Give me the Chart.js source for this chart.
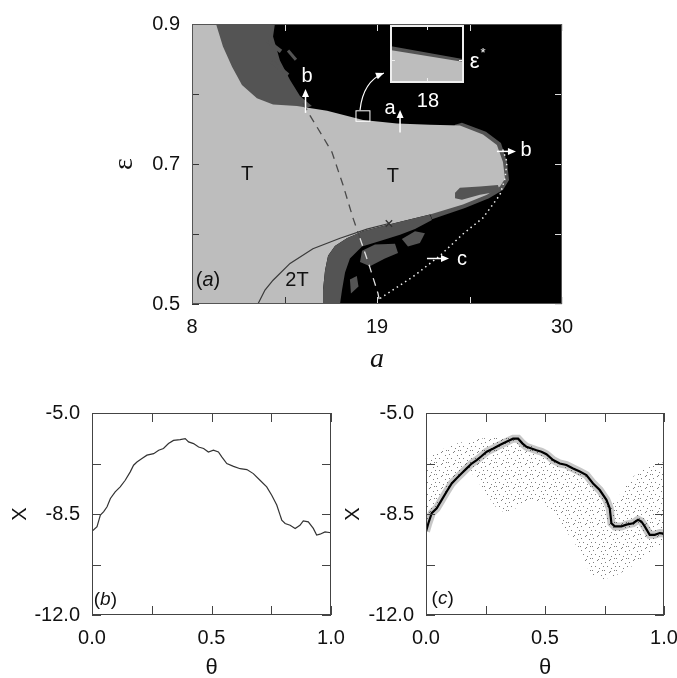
<!DOCTYPE html>
<html>
<head>
<meta charset="utf-8">
<script src="https://cdn.jsdelivr.net/npm/chart.js@4.4.1/dist/chart.umd.min.js"></script>
<style>
  html, body { margin: 0; padding: 0; background: #fff; width: 677px; height: 678px; overflow: hidden; }
  canvas { position: absolute; }
  #chartA { left: 0; top: 0; }
  #chartI { left: 390px; top: 25px; }
  #chartB { left: 0; top: 380px; }
  #chartC { left: 340px; top: 380px; }
</style>
</head>
<body>
<canvas id="chartA" width="677" height="380"></canvas>
<canvas id="chartI" width="74" height="58"></canvas>
<canvas id="chartB" width="360" height="310"></canvas>
<canvas id="chartC" width="357" height="310"></canvas>
<script>
// ---- panel (a): parameter plane, points are [a, epsilon] ----
const aTicks = [8, 13.5, 19, 24.5, 30];
const aLabels = [8, 19, 30];
const epsTicks = [0.5, 0.6, 0.7, 0.8, 0.9];
const epsLabels = [0.5, 0.7, 0.9];

const lightRegion = [[8,0.9],[9.43,0.9],[9.84,0.868],[10.38,0.839],[10.97,0.813],[11.86,0.794],[12.82,0.785],
  [14.24,0.783],[16.03,0.776],[18.17,0.763],[20.19,0.758],[22.15,0.756],[23.93,0.755],[25.30,0.742],[26.13,0.727],
  [26.49,0.703],[26.61,0.679],[26.31,0.668],[25.54,0.656],[24.11,0.642],[22.15,0.628],[19.77,0.614],[18.17,0.604],
  [17.21,0.594],[16.50,0.583],[16.09,0.569],[15.91,0.548],[15.79,0.520],[15.79,0.5],[8,0.5]];
const darkTopLeft = [[9.07,0.9],[12.93,0.9],[12.82,0.882],[13.23,0.848],[13.83,0.820],[14.42,0.797],[15.13,0.783],
  [13.83,0.773],[10.85,0.787],[9.07,0.872]];
const darkNose = [[23.64,0.756],[24.05,0.759],[25.48,0.746],[26.37,0.730],[26.73,0.703],[26.85,0.677],[26.49,0.663],
  [25.66,0.651],[24.23,0.637],[22.27,0.621],[21.56,0.675],[22.74,0.717]];
const darkLower = [[15.79,0.5],[15.79,0.520],[15.91,0.548],[16.09,0.569],[16.50,0.583],[17.21,0.594],[18.17,0.604],
  [19.77,0.614],[22.15,0.628],[22.27,0.620],[21.26,0.607],[20.37,0.599],[19.18,0.590],[18.11,0.582],[17.39,0.565],
  [17.10,0.545],[16.92,0.520],[16.80,0.5]];
const darkBlob1 = [[18.11,0.576],[18.88,0.585],[20.07,0.586],[20.25,0.573],[19.47,0.565],[18.58,0.554],[17.99,0.560]];
const darkBlob2 = [[20.48,0.593],[21.26,0.604],[21.85,0.601],[21.55,0.587],[20.84,0.582]];
const darkBlob3 = [[17.39,0.535],[17.80,0.540],[17.90,0.525],[17.45,0.515]];
const darkFinger = [[23.64,0.659],[23.93,0.666],[25.12,0.668],[26.19,0.670],[26.31,0.661],[25.12,0.656],[24.05,0.649],[23.64,0.651]];
const streak1 = [[12.52,0.875],[13.29,0.861]];
const streak2 = [[12.76,0.846],[13.71,0.827]];
const streak3 = [[13.71,0.862],[14.18,0.849]];

const solidCurve = [[11.92,0.5],[12.34,0.520],[12.82,0.534],[13.83,0.558],[15.19,0.579],[16.80,0.594],[18.40,0.607],[19.71,0.615]];
const dashedCurve = [[14.60,0.787],[15.02,0.769],[15.73,0.741],[16.32,0.717],[16.98,0.670],[17.57,0.623],[17.99,0.594],
  [18.58,0.552],[19.06,0.515],[19.18,0.5]];
const dottedCurve = [[19.18,0.508],[21.14,0.539],[22.74,0.569],[24.11,0.600],[25.30,0.623],[26.31,0.656],[26.61,0.679],
  [26.73,0.703],[26.43,0.724]];
const crossMarks = [[19.71,0.615]];

// inset: zoom of the boundary near a = 18
const insetA = [17.9, 18.1];
const insetEps = [0.760, 0.770];
const epsStar = 0.764;
const insetDark = [[17.9,0.760],[17.9,0.7664],[18.1,0.7641],[18.1,0.760]];
const insetLight = [[17.9,0.760],[17.9,0.7657],[18.1,0.7636],[18.1,0.760]];

// ---- panels (b) and (c): x against theta ----
const thetaTicks = [0, 0.25, 0.5, 0.75, 1];
const thetaLabels = [0, 0.5, 1];
const xTicks = [-12, -10.25, -8.5, -6.75, -5];
const xLabels = [-12, -8.5, -5];

const thetaB = [0,0.021,0.035,0.049,0.063,0.077,0.097,0.118,0.139,0.160,0.174,0.188,0.209,0.230,0.258,0.279,0.299,
  0.320,0.341,0.369,0.390,0.404,0.425,0.446,0.467,0.487,0.508,0.529,0.543,0.564,0.592,0.620,0.648,0.675,0.703,0.731,
  0.752,0.773,0.787,0.794,0.808,0.829,0.850,0.870,0.884,0.905,0.926,0.940,0.954,0.975,1.0];
const xB = [-9.10,-8.94,-8.54,-8.42,-8.25,-7.96,-7.73,-7.56,-7.33,-7.04,-6.81,-6.70,-6.58,-6.46,-6.41,-6.29,-6.23,
  -6.06,-5.95,-5.92,-5.89,-6.00,-6.06,-6.18,-6.23,-6.35,-6.29,-6.35,-6.52,-6.75,-6.85,-6.93,-6.96,-7.10,-7.33,-7.56,
  -7.85,-8.19,-8.54,-8.71,-8.83,-8.89,-9.00,-8.89,-8.74,-8.77,-9.00,-9.23,-9.20,-9.12,-9.15];

const thetaC = [0,0.010,0.024,0.045,0.066,0.087,0.108,0.129,0.150,0.171,0.192,0.213,0.234,0.255,0.283,0.310,0.338,
  0.366,0.387,0.406,0.422,0.443,0.464,0.485,0.506,0.534,0.562,0.590,0.618,0.646,0.674,0.702,0.730,0.758,0.772,0.779,
  0.793,0.821,0.842,0.870,0.891,0.905,0.919,0.940,0.961,0.982,1.0];
const xC = [-9.10,-8.82,-8.47,-8.30,-8.01,-7.72,-7.44,-7.26,-7.09,-6.92,-6.75,-6.63,-6.49,-6.34,-6.23,-6.11,-6.00,
  -5.89,-5.89,-6.06,-6.17,-6.23,-6.29,-6.34,-6.43,-6.63,-6.75,-6.80,-6.92,-7.03,-7.15,-7.44,-7.67,-8.01,-8.30,-8.82,
  -8.93,-8.93,-8.87,-8.82,-8.70,-8.76,-8.93,-9.22,-9.22,-9.16,-9.18];

// outline of the sparse cloud of points in (c)
const cloudTheta = [0,0.059,0.129,0.199,0.269,0.338,0.380,0.422,0.478,0.548,0.618,0.674,0.730,0.772,0.800,0.828,0.870,
  0.926,0.975,1.0,1.0,0.954,0.898,0.842,0.786,0.737,0.695,0.667,0.639,0.604,0.569,0.534,0.492,0.450,0.408,0.366,0.331,
  0.297,0.262,0.227,0.199,0.171,0.150,0.129,0.108,0.087,0.066,0.045,0.024,0];
const cloudX = [-6.63,-6.29,-6.06,-5.92,-5.85,-5.83,-5.85,-6.06,-6.29,-6.63,-6.92,-7.21,-7.78,-8.24,-8.01,-7.67,-7.21,
  -6.89,-6.69,-6.72,-9.51,-9.74,-10.14,-10.43,-10.68,-10.77,-10.60,-10.20,-9.68,-9.28,-8.82,-8.41,-8.13,-8.07,-8.13,
  -8.36,-8.45,-8.30,-7.90,-7.49,-7.15,-6.92,-7.09,-7.26,-7.44,-7.72,-8.01,-8.30,-8.47,-9.10];

const LIGHT = '#bdbdbd';
const DARK = '#545454';
const SANS = 'Liberation Sans';

const xy = pts => pts.map(p => ({ x: p[0], y: p[1] }));
const zipXY = (xs, ys) => xs.map((v, i) => ({ x: v, y: ys[i] }));

function polygon(pts, color, order) {
  return { data: xy(pts), borderWidth: 0, borderColor: color, backgroundColor: color, fill: 'shape', order: order };
}

// extra drawing per chart: frame, inward ticks, arrows and text
const deco = {
  chartA: {
    areaColor: '#000', frameColor: '#555', frameWidth: 1, tickLen: 7, xTicks: aTicks, yTicks: epsTicks,
    tickColor: (side, v) => {
      if (side === 'left') return '#333';
      if (side === 'bottom' && v < 15) return '#333';
      return '#ddd';
    },
    labels: [
      { parts: [{ t: 'T' }], x: 11.27, y: 0.6845, color: '#111', size: 20 },
      { parts: [{ t: 'T' }], x: 19.95, y: 0.682, color: '#111', size: 20 },
      { parts: [{ t: '2T' }], x: 14.24, y: 0.534, color: '#111', size: 20 },
      { parts: [{ t: '(' }, { t: 'a', italic: true }, { t: ')' }], x: 8.95, y: 0.534, color: '#111', size: 20 },
      { parts: [{ t: 'b' }], x: 14.84, y: 0.825, color: '#fff', size: 20 },
      { parts: [{ t: 'a' }], x: 19.77, y: 0.780, color: '#fff', size: 20 },
      { parts: [{ t: 'b' }], x: 27.86, y: 0.720, color: '#fff', size: 20 },
      { parts: [{ t: 'c' }], x: 24.05, y: 0.563, color: '#fff', size: 20 },
      { parts: [{ t: '18' }], x: 22.03, y: 0.7887, color: '#fff', size: 20 },
      { parts: [{ t: 'ε' }], x: 24.80, y: 0.846, color: '#fff', size: 22 },
      { parts: [{ t: '*' }], x: 25.30, y: 0.858, color: '#fff', size: 13 }
    ],
    arrows: [
      { from: [14.75, 0.773], to: [14.75, 0.807] },
      { from: [20.37, 0.745], to: [20.37, 0.777] },
      { from: [26.13, 0.718], to: [27.26, 0.718] },
      { from: [21.97, 0.565], to: [23.28, 0.565] }
    ],
    curves: [{ from: [17.99, 0.777], ctrl: [18.17, 0.818], to: [19.41, 0.830] }],
    boxes: [[17.75, 0.776, 18.58, 0.761]]
  },
  chartI: {
    areaColor: '#000', frameColor: '#eee', frameWidth: 2, tickLen: 5, xTicks: [18], yTicks: [epsStar],
    tickColor: () => '#eee'
  },
  chartB: {
    frameColor: '#444', frameWidth: 1, tickLen: 9, xTicks: thetaTicks, yTicks: xTicks, tickColor: () => '#444',
    labels: [{ parts: [{ t: '(' }, { t: 'b', italic: true }, { t: ')' }], x: 0.056, y: -11.48, color: '#111', size: 19 }]
  },
  chartC: {
    frameColor: '#444', frameWidth: 1, tickLen: 9, xTicks: thetaTicks, yTicks: xTicks, tickColor: () => '#444',
    labels: [{ parts: [{ t: '(' }, { t: 'c', italic: true }, { t: ')' }], x: 0.07, y: -11.45, color: '#111', size: 19 }]
  }
};

function head(ctx, x, y, ang) {
  const len = 8, w = 3.5;
  ctx.beginPath();
  ctx.moveTo(x, y);
  ctx.lineTo(x - len * Math.cos(ang) + w * Math.sin(ang), y - len * Math.sin(ang) - w * Math.cos(ang));
  ctx.lineTo(x - len * Math.cos(ang) - w * Math.sin(ang), y - len * Math.sin(ang) + w * Math.cos(ang));
  ctx.closePath();
  ctx.fill();
}

const decoPlugin = {
  id: 'deco',
  beforeDraw(chart) {
    const d = deco[chart.canvas.id];
    if (!d || !d.areaColor) return;
    const a = chart.chartArea;
    chart.ctx.save();
    chart.ctx.fillStyle = d.areaColor;
    chart.ctx.fillRect(a.left, a.top, a.right - a.left, a.bottom - a.top);
    chart.ctx.restore();
  },
  afterDatasetsDraw(chart) {
    const d = deco[chart.canvas.id];
    if (!d) return;
    const ctx = chart.ctx, a = chart.chartArea;
    const px = v => chart.scales.x.getPixelForValue(v);
    const py = v => chart.scales.y.getPixelForValue(v);
    const seg = (x1, y1, x2, y2) => { ctx.beginPath(); ctx.moveTo(x1, y1); ctx.lineTo(x2, y2); ctx.stroke(); };
    ctx.save();

    ctx.lineWidth = 1;
    d.xTicks.forEach(v => {
      const x = Math.round(px(v)) + 0.5;
      ctx.strokeStyle = d.tickColor('bottom', v);
      seg(x, a.bottom, x, a.bottom - d.tickLen);
      ctx.strokeStyle = d.tickColor('top', v);
      seg(x, a.top, x, a.top + d.tickLen);
    });
    d.yTicks.forEach(v => {
      const y = Math.round(py(v)) + 0.5;
      ctx.strokeStyle = d.tickColor('left', v);
      seg(a.left, y, a.left + d.tickLen, y);
      ctx.strokeStyle = d.tickColor('right', v);
      seg(a.right, y, a.right - d.tickLen, y);
    });

    ctx.strokeStyle = d.frameColor;
    ctx.lineWidth = d.frameWidth;
    const fw = d.frameWidth / 2;
    ctx.strokeRect(a.left + fw, a.top + fw, a.right - a.left - 2 * fw, a.bottom - a.top - 2 * fw);

    ctx.strokeStyle = '#fff';
    ctx.fillStyle = '#fff';
    ctx.lineWidth = 1.5;
    (d.arrows || []).forEach(ar => {
      const x1 = px(ar.from[0]), y1 = py(ar.from[1]), x2 = px(ar.to[0]), y2 = py(ar.to[1]);
      const ang = Math.atan2(y2 - y1, x2 - x1);
      seg(x1, y1, x2 - 6 * Math.cos(ang), y2 - 6 * Math.sin(ang));
      head(ctx, x2, y2, ang);
    });
    ctx.lineWidth = 1.2;
    (d.curves || []).forEach(cv => {
      const x1 = px(cv.from[0]), y1 = py(cv.from[1]);
      const cx = px(cv.ctrl[0]), cy = py(cv.ctrl[1]);
      const x2 = px(cv.to[0]), y2 = py(cv.to[1]);
      ctx.beginPath(); ctx.moveTo(x1, y1); ctx.quadraticCurveTo(cx, cy, x2, y2); ctx.stroke();
      head(ctx, x2, y2, Math.atan2(y2 - cy, x2 - cx));
    });
    ctx.lineWidth = 1;
    (d.boxes || []).forEach(b => {
      ctx.strokeRect(px(b[0]), py(b[1]), px(b[2]) - px(b[0]), py(b[3]) - py(b[1]));
    });

    ctx.textBaseline = 'middle';
    ctx.textAlign = 'left';
    (d.labels || []).forEach(lb => {
      const fonts = lb.parts.map(p => (p.italic ? 'italic ' : '') + lb.size + 'px "' + SANS + '"');
      let total = 0;
      lb.parts.forEach((p, i) => { ctx.font = fonts[i]; total += ctx.measureText(p.t).width; });
      let x = px(lb.x) - total / 2;
      const y = py(lb.y);
      ctx.fillStyle = lb.color;
      lb.parts.forEach((p, i) => { ctx.font = fonts[i]; ctx.fillText(p.t, x, y); x += ctx.measureText(p.t).width; });
    });
    ctx.restore();
  }
};

const tickFont = { family: SANS, size: 20 };

function axis(min, max, labels, fmt, fitFn, tickPad, title) {
  return {
    type: 'linear', min: min, max: max,
    grid: { display: false, drawTicks: false },
    border: { display: false },
    afterBuildTicks: s => { s.ticks = labels.map(v => ({ value: v })); },
    afterFit: fitFn,
    ticks: { font: tickFont, color: '#111', padding: tickPad, maxRotation: 0, autoSkip: false, callback: fmt },
    title: title
  };
}

const baseOpts = {
  responsive: false, animation: false, events: [],
  elements: { point: { radius: 0 }, line: { tension: 0 } },
  plugins: { legend: { display: false }, tooltip: { enabled: false } }
};

// panel (a)
new Chart(document.getElementById('chartA'), {
  type: 'line',
  data: {
    datasets: [
      { data: xy(crossMarks), showLine: false, pointStyle: 'crossRot', pointRadius: 4.5, pointBorderColor: '#333', pointBorderWidth: 1.3, order: 0 },
      { data: xy(dottedCurve), borderColor: '#f0f0f0', borderWidth: 1.5, borderDash: [1.5, 3.5], fill: false, order: 1 },
      { data: xy(dashedCurve), borderWidth: 1.3, borderDash: [8, 6], fill: false, order: 2,
        segment: { borderColor: c => c.p0.parsed.y < 0.6 ? '#e0e0e0' : '#4a4a4a' } },
      { data: xy(solidCurve), borderColor: '#3a3a3a', borderWidth: 1.2, fill: false, order: 3 },
      polygon(darkFinger, DARK, 4),
      polygon(darkBlob1, DARK, 5),
      polygon(darkBlob2, DARK, 5),
      polygon(darkBlob3, DARK, 5),
      polygon(darkLower, DARK, 5),
      { data: xy(streak1), borderColor: DARK, borderWidth: 4, fill: false, order: 6 },
      { data: xy(streak2), borderColor: DARK, borderWidth: 4, fill: false, order: 6 },
      { data: xy(streak3), borderColor: DARK, borderWidth: 3, fill: false, order: 6 },
      polygon(lightRegion, LIGHT, 7),
      polygon(darkNose, DARK, 8),
      polygon(darkTopLeft, DARK, 9)
    ]
  },
  options: Object.assign({}, baseOpts, {
    layout: { padding: { left: 0, top: 20, right: 115, bottom: 0 } },
    scales: {
      x: axis(8, 30, aLabels, v => String(v), s => { s.height = 76; }, 11,
        { display: true, text: 'a', color: '#111', font: { family: 'Liberation Serif', size: 28, style: 'italic' }, padding: { top: 0, bottom: 4 } }),
      y: axis(0.5, 0.9, epsLabels, v => v.toFixed(1), s => { s.width = 192; }, 12,
        { display: true, text: 'ε', color: '#111', font: { family: 'Liberation Serif', size: 28 }, padding: { top: 108, bottom: 0 } })
    }
  }),
  plugins: [decoPlugin]
});

// inset of panel (a)
new Chart(document.getElementById('chartI'), {
  type: 'line',
  data: {
    datasets: [
      polygon(insetLight, LIGHT, 0),
      polygon(insetDark, DARK, 1)
    ]
  },
  options: Object.assign({}, baseOpts, {
    layout: { padding: 0 },
    scales: {
      x: { type: 'linear', min: insetA[0], max: insetA[1], display: false },
      y: { type: 'linear', min: insetEps[0], max: insetEps[1], display: false }
    }
  }),
  plugins: [decoPlugin]
});

function thetaScales(yWidth, yTitlePad) {
  return {
    x: axis(0, 1, thetaLabels, v => v.toFixed(1), s => { s.height = 75; }, 11,
      { display: true, text: 'θ', color: '#111', font: { family: SANS, size: 22 }, padding: { top: 0, bottom: 9 } }),
    y: axis(-12, -5, xLabels, v => v.toFixed(1), s => { s.width = yWidth; }, 12,
      { display: true, text: 'X', color: '#111', font: { family: SANS, size: 20 }, padding: { top: yTitlePad, bottom: 0 } })
  };
}

// panel (b)
new Chart(document.getElementById('chartB'), {
  type: 'line',
  data: {
    datasets: [{ data: zipXY(thetaB, xB), borderColor: '#333', borderWidth: 1.2, fill: false }]
  },
  options: Object.assign({}, baseOpts, {
    layout: { padding: { left: 0, top: 33, right: 29, bottom: 0 } },
    scales: thetaScales(92, 8)
  }),
  plugins: [decoPlugin]
});

// panel (c): dense band plus sparse cloud
function dotPattern() {
  const c = document.createElement('canvas');
  c.width = 12; c.height = 12;
  const g = c.getContext('2d');
  g.fillStyle = 'rgba(0,0,0,0.5)';
  [[1, 2], [5, 0], [9, 3], [3, 6], [7, 8], [11, 6], [0, 10], [6, 11], [10, 10]].forEach(p => g.fillRect(p[0], p[1], 1, 1));
  return g.createPattern(c, 'repeat');
}

new Chart(document.getElementById('chartC'), {
  type: 'line',
  data: {
    datasets: [
      { data: zipXY(thetaC, xC), borderColor: '#000', borderWidth: 2.2, fill: false, order: 0 },
      { data: zipXY(thetaC, xC), borderColor: 'rgba(0,0,0,0.22)', borderWidth: 8, fill: false, order: 1 },
      { data: zipXY(cloudTheta, cloudX), borderWidth: 0, backgroundColor: dotPattern(), fill: 'shape', order: 2 }
    ]
  },
  options: Object.assign({}, baseOpts, {
    layout: { padding: { left: 0, top: 33, right: 33, bottom: 0 } },
    scales: thetaScales(86, 1)
  }),
  plugins: [decoPlugin]
});
</script>
</body>
</html>
